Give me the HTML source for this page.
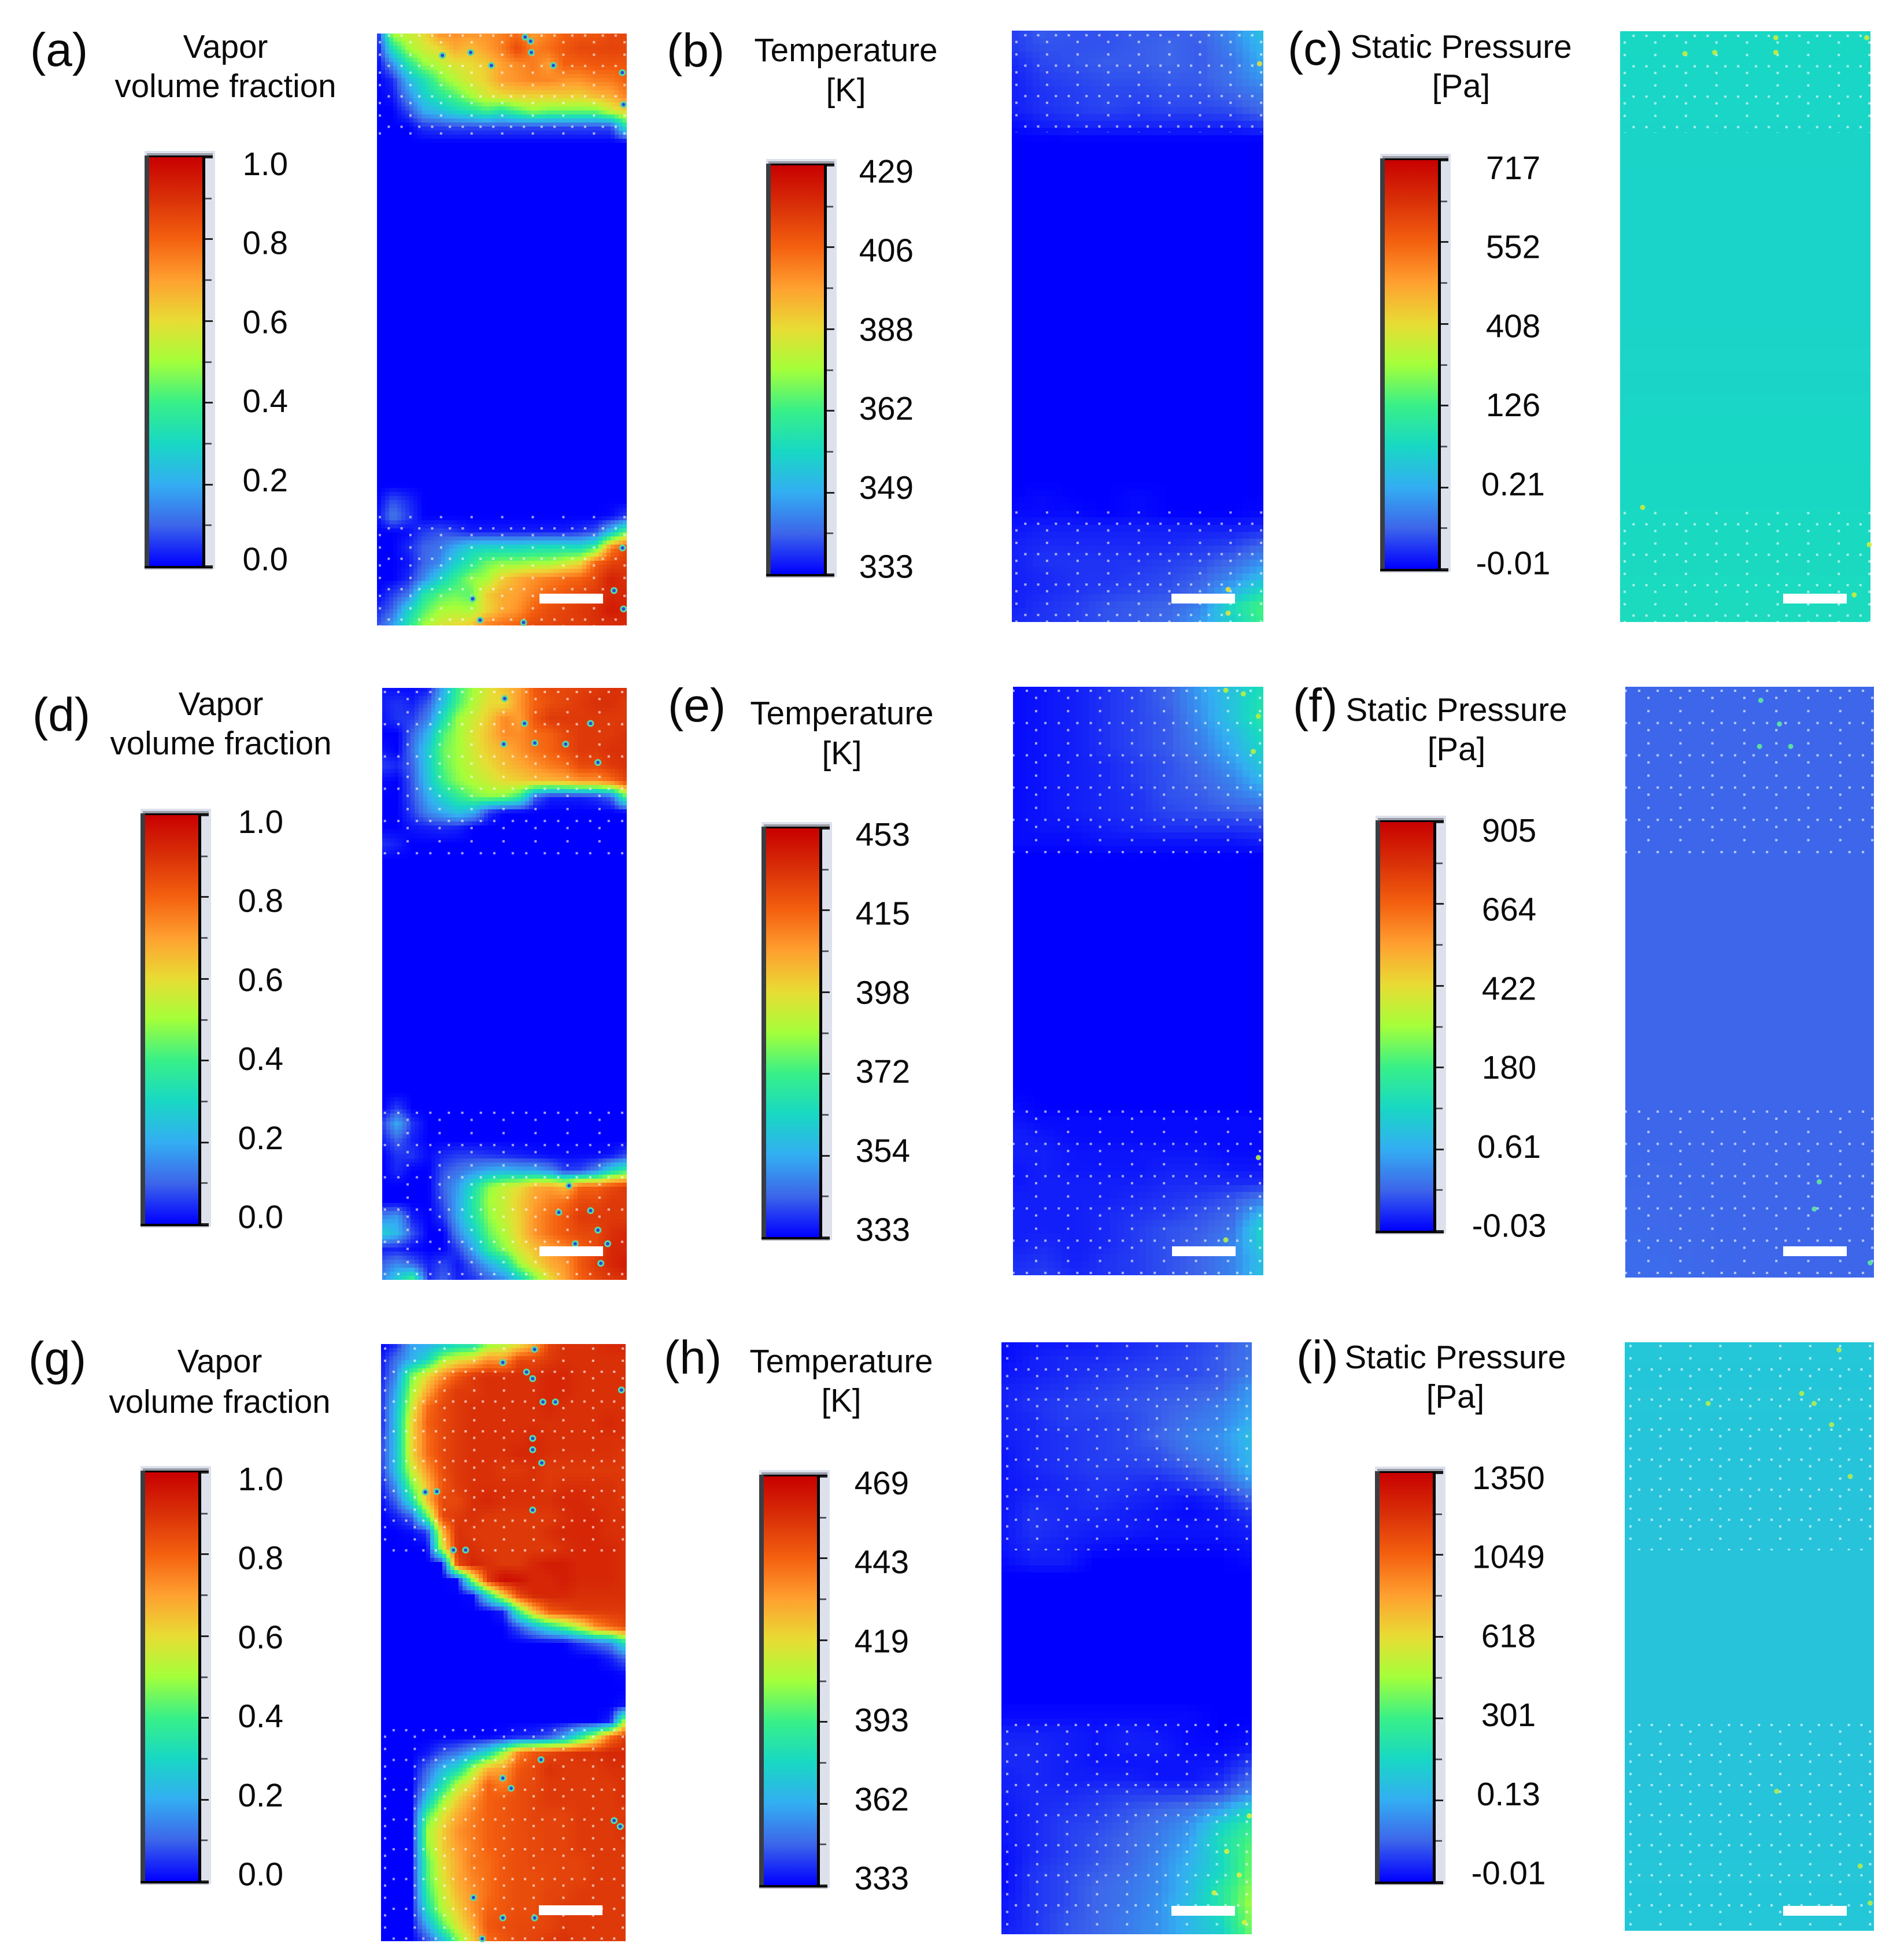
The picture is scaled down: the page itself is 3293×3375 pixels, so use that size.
<!DOCTYPE html>
<html lang="en">
<head>
<meta charset="utf-8">
<title>Vapor fraction, temperature and pressure fields</title>
<style>
html,body{margin:0;padding:0;background:#fff;}
svg{display:block;font-family:"Liberation Sans",Arial,sans-serif;}
</style>
</head>
<body>
<svg id="figure" xmlns="http://www.w3.org/2000/svg" width="3293" height="3375" viewBox="0 0 3293 3375"><defs id="defs"></defs></svg>
<script>
/* colour scale */
const scaleStops = [0, 0.1, 0.2, 0.3, 0.4, 0.5, 0.6, 0.7, 0.8, 0.9, 1];
const scaleColors = ['#0000ff','#3d66ea','#33aef2','#18d8c4','#38f088','#a4ff3a','#e8dc34','#ffa030','#f4600f','#d93008','#c80000'];

/* colour bar tick labels */
const vaporTicks = ['1.0','0.8','0.6','0.4','0.2','0.0'];
const tempTicksB = ['429','406','388','362','349','333'];
const tempTicksE = ['453','415','398','372','354','333'];
const tempTicksH = ['469','443','419','393','362','333'];
const pressTicksC = ['717','552','408','126','0.21','-0.01'];
const pressTicksF = ['905','664','422','180','0.61','-0.03'];
const pressTicksI = ['1350','1049','618','301','0.13','-0.01'];

const z17 = [0,0,0,0,0,0,0,0,0,0,0,0,0,0,0,0,0];
const z9 = [0,0,0,0,0,0,0,0,0];

/* vapor fraction fields, percent */
const vaporA = [
[0,52,55,60,72,73,72,72,75,78,70,75,80,82,82,85,85],
[0,33,50,56,60,68,65,70,75,85,75,78,82,85,85,86,85],
[0,15,35,48,53,58,60,63,70,73,76,70,80,80,82,82,82],
[0,4,22,33,45,52,58,62,70,72,74,74,72,72,75,76,80],
[0,2,15,28,36,42,50,57,60,62,62,62,63,62,66,68,75],
[0,0,7,20,24,30,34,40,35,42,48,45,45,45,45,55,62],
[0,0,0,5,6,7,7,7,7,7,7,7,7,7,7,7,35],
z17,
z17,z17,z17,z17,z17,z17,z17,z17,z17,z17,z17,z17,z17,z17,z17,z17,z17,z17,z17,z17,z17,z17,
[0,8,4,0,0,0,0,0,0,0,0,0,0,0,0,0,0],
[1,13,6,0,0,0,0,0,0,0,0,0,0,0,0,1,6],
[0,0,1,6,8,6,3,3,3,3,3,3,3,5,8,25,45],
[0,0,4,10,12,20,28,30,30,30,32,33,33,32,40,75,86],
[0,0,2,10,15,28,36,45,48,48,50,50,55,60,80,86,88],
[0,0,4,15,28,38,48,50,62,68,72,75,78,80,85,93,90],
[0,6,12,35,42,45,43,62,68,70,75,80,82,85,88,92,92],
[4,10,28,42,50,52,50,60,68,72,80,84,86,88,90,95,92],
[7,18,35,50,57,60,63,75,78,80,85,85,87,87,90,90,92]
];
const vaporD = [
[2,1,1,2,20,40,50,58,65,70,82,85,85,87,88,90,90],
[3,5,3,9,25,42,52,60,60,72,80,84,86,88,90,90,88],
[2,5,6,14,33,50,56,63,74,70,82,88,88,88,88,88,88],
[0,0,10,22,42,50,58,65,73,73,78,80,85,88,88,88,90],
[2,0,12,27,45,50,57,63,67,72,77,80,84,88,88,90,90],
[6,4,10,27,43,50,55,60,65,68,72,76,78,85,85,88,90],
[1,0,9,25,40,48,52,56,60,62,65,66,68,72,72,78,86],
[0,0,8,20,30,38,45,48,47,38,10,3,3,3,5,10,45],
[0,0,6,15,20,25,20,5,0,0,0,0,0,0,0,0,0],
[0,0,2,3,4,3,0,0,0,0,0,0,0,0,0,0,0],
[5,3,0,0,0,0,0,0,0,0,0,0,0,0,0,0,0],
z17,z17,z17,z17,z17,z17,z17,z17,z17,z17,z17,z17,z17,z17,z17,z17,
[0,6,0,0,0,0,0,0,0,0,0,0,0,0,0,0,0],
[6,20,5,0,0,0,0,0,0,0,0,0,0,0,0,0,0],
[3,10,3,0,0,0,0,0,0,0,0,0,0,0,0,0,0],
[0,5,5,1,4,6,6,5,4,3,2,1,1,1,1,2,7],
[0,4,0,0,8,12,16,20,22,20,20,15,6,7,15,30,40],
[0,0,0,0,10,18,33,48,55,60,68,70,65,80,80,85,88],
[0,0,0,0,8,20,36,50,55,63,70,75,78,85,85,88,88],
[15,18,3,0,5,20,34,48,55,62,72,78,82,88,88,88,88],
[28,22,8,0,0,15,28,44,52,62,72,78,82,85,85,90,92],
[3,3,1,0,0,7,20,38,48,58,65,70,75,80,85,92,92],
[10,15,10,3,7,2,10,20,30,50,60,68,72,82,88,92,95],
[15,28,42,4,10,3,5,10,15,28,45,60,70,80,85,88,90]
];
const vaporG = [
[0,4,18,20,25,30,32,47,52,58,68,86,90,90,90,92,92],
[2,12,20,30,50,58,62,72,70,85,85,88,90,90,90,90,90],
[3,15,45,60,72,82,88,90,90,90,90,92,92,90,90,90,90],
[4,20,50,68,82,88,88,90,90,90,90,92,92,90,90,90,90],
[4,24,55,78,85,88,90,90,90,90,90,92,90,90,90,90,90],
[3,25,60,80,85,88,90,90,90,90,90,90,90,90,90,92,90],
[5,25,60,78,85,88,90,90,90,90,92,90,90,90,90,90,90],
[6,25,60,78,85,88,90,90,90,92,92,90,90,90,90,90,88],
[5,25,55,72,84,88,90,90,88,88,90,88,88,88,88,88,88],
[3,17,45,65,82,88,90,90,90,90,90,88,90,90,90,90,88],
[1,10,32,65,85,85,90,92,90,90,90,90,92,92,90,90,88],
[0,3,9,42,85,88,90,88,88,88,88,88,90,92,92,90,90],
[0,0,1,5,65,90,88,88,88,88,88,90,92,92,92,90,90],
[0,0,0,0,55,90,90,88,88,88,88,88,90,92,92,92,90],
[0,0,0,0,0,85,92,90,88,88,92,94,94,92,92,92,90],
[0,0,0,0,0,1,50,88,98,96,92,92,94,92,92,92,90],
[0,0,0,0,0,0,1,30,62,85,92,92,92,90,90,90,90],
[0,0,0,0,0,0,0,0,3,40,65,82,85,88,88,88,88],
[0,0,0,0,0,0,0,0,0,8,20,32,42,55,72,80,85],
[0,0,0,0,0,0,0,0,0,0,0,0,0,5,10,15,35],
[0,0,0,0,0,0,0,0,0,0,0,0,0,0,0,3,10],
[0,0,0,0,0,0,0,0,0,0,0,0,0,0,0,0,1],
z17,
[0,0,0,0,0,0,0,0,0,0,0,0,0,0,0,0,2],
[0,0,0,0,0,0,0,0,0,0,0,0,0,0,0,3,55],
[0,0,0,0,0,0,0,0,1,3,4,8,18,35,55,78,88],
[0,0,0,2,8,12,20,30,50,75,82,85,88,90,90,92,92],
[0,0,0,10,22,30,50,66,70,82,85,90,88,88,88,90,90],
[0,0,0,15,32,52,62,80,75,84,85,88,88,88,88,88,90],
[0,0,0,25,48,62,72,80,82,84,86,88,88,88,88,88,90],
[0,0,0,42,58,68,75,80,82,84,86,86,86,88,88,88,88],
[0,0,0,50,62,72,76,80,82,84,85,86,86,88,88,88,90],
[0,0,0,48,62,70,75,80,82,84,85,86,86,88,88,88,88],
[0,0,0,42,60,68,76,78,82,84,85,85,86,86,88,88,88],
[0,0,0,42,58,68,74,78,82,84,84,85,86,86,88,88,88],
[0,0,0,38,55,66,72,78,82,84,84,86,86,88,88,88,88],
[0,0,0,32,52,62,72,80,82,84,84,86,88,88,88,88,88],
[0,0,0,20,42,58,68,82,84,85,85,86,88,88,88,88,88],
[0,0,0,7,22,45,62,78,82,85,86,88,90,88,88,88,88]
];

/* temperature fields, percent of colour range */
const tempB = [
[6,9,8,8,9,9,10,15,25],
[6,8,8,8,9,10,9,14,22],
[4,7,8,9,9,10,9,12,20],
[3,6,7,8,8,9,9,12,17],
[3,5,6,7,7,8,8,10,13],
[3,5,6,7,6,7,7,8,11],
[1,3,4,4,4,4,4,4,6],
z9,z9,z9,z9,z9,z9,z9,z9,z9,z9,z9,z9,z9,z9,z9,z9,z9,z9,z9,z9,z9,z9,z9,
[0,1,0,0,1,0,0,0,0],
[1,1,1,0,1,0,0,0,1],
[2,3,3,3,3,3,3,3,4],
[3,4,4,4,4,4,5,6,10],
[3,5,5,5,5,6,7,10,15],
[3,4,5,5,6,7,9,14,22],
[3,4,5,6,7,8,11,20,32],
[3,5,6,8,9,10,14,32,42],
[4,5,6,8,9,11,17,28,40]
];
const tempE = [
[1,2,3,5,7,10,18,25,32],
[1,2,3,5,7,10,17,25,34],
[1,2,3,5,7,9,16,25,35],
[1,2,3,5,7,9,14,22,32],
[1,2,3,5,7,9,13,20,30],
[1,2,3,4,6,8,11,17,26],
[1,2,3,4,6,8,10,14,22],
[1,2,3,4,5,8,9,12,16],
[1,2,3,4,5,7,8,9,10],
[1,2,2,3,4,5,5,5,6],
[1,1,1,2,2,2,2,2,3],
z9,z9,z9,z9,z9,z9,z9,z9,z9,z9,z9,z9,z9,z9,z9,z9,
[1,0,0,0,0,0,0,0,0],
[2,1,1,1,1,1,1,1,1],
[3,2,1,1,1,1,1,1,1],
[3,3,2,2,2,2,2,1,1],
[2,3,2,2,2,3,3,2,2],
[2,3,3,3,3,4,4,4,4],
[3,3,3,3,4,5,6,8,12],
[3,3,3,4,5,6,8,10,22],
[3,3,3,4,6,8,9,12,30],
[3,4,3,4,6,8,10,14,28],
[4,5,3,5,6,8,10,14,24],
[5,6,4,5,6,8,10,14,25]
];
const tempH = [
[1,2,2,3,4,5,6,8,12],
[1,3,4,4,5,6,7,9,12],
[2,3,4,5,6,7,7,9,13],
[3,4,5,6,7,8,9,10,17],
[3,5,6,7,8,9,10,13,18],
[3,4,6,6,7,9,12,14,20],
[3,4,5,6,7,10,13,16,24],
[2,4,5,6,7,8,12,15,22],
[2,4,5,6,6,7,9,13,22],
[2,3,4,5,5,4,6,9,17],
[2,4,4,5,4,3,2,4,10],
[2,5,4,4,3,2,1,2,5],
[2,5,4,3,3,2,2,2,3],
[2,4,3,2,1,1,1,1,2],
[1,3,3,0,0,0,0,0,1],
z9,z9,z9,z9,z9,z9,z9,z9,z9,
[1,1,1,1,1,1,1,0,0],
[3,3,3,2,3,2,1,0,1],
[4,4,3,2,3,3,1,1,2],
[4,4,3,2,2,2,2,2,6],
[3,4,3,3,3,2,2,4,10],
[3,4,4,5,6,6,6,8,15],
[2,4,5,6,8,10,12,18,30],
[2,4,6,7,9,12,16,28,38],
[2,4,6,8,10,13,18,32,42],
[1,4,6,8,10,14,20,30,45],
[1,5,7,9,11,15,22,30,45],
[1,5,7,10,12,15,22,35,48],
[2,5,7,10,12,16,24,35,50],
[2,5,8,10,13,16,22,30,48],
[3,5,8,10,13,16,22,28,45]
];

/* static pressure fields, percent of colour range */
const pressC = [[30,30,30],[29,29,29],[29,29,29],[30,30,30],[31,31,31]];
const pressF = [[10,10,10],[10,10,10],[10,10,10],[10,10,10],[11,10,10]];
const pressI = [[26,26,26],[25,25,25],[25,25,25],[25,25,25],[26,26,26]];

/* nucleation and hot spots: x share, y share */
const sitesA = [[.262,.037],[.375,.032],[.458,.054],[.593,.006],[.615,.013],[.618,.032],[.706,.054],[.982,.066],[.987,.120],[.383,.955],[.413,.991],[.587,.995],[.983,.869],[.949,.941],[.987,.972]];
const sitesD = [[.501,.018],[.582,.060],[.852,.060],[.497,.095],[.624,.093],[.750,.095],[.882,.126],[.764,.841],[.722,.886],[.852,.883],[.882,.916],[.789,.939],[.922,.939],[.894,.972]];
const sitesG = [[.628,.009],[.498,.031],[.595,.047],[.620,.058],[.983,.077],[.662,.097],[.713,.097],[.620,.158],[.620,.177],[.657,.199],[.181,.248],[.228,.247],[.620,.278],[.346,.345],[.296,.345],[.498,.727],[.532,.744],[.654,.696],[.953,.798],[.978,.808],[.378,.927],[.498,.961],[.628,.961],[.414,.996]];
const spotsB = [[.86,.945],[.86,.985],[.985,.056]];
const spotsE = [[.85,.006],[.92,.012],[.98,.05],[.96,.11],[.98,.80],[.85,.94]];
const spotsH = [[.90,.86],[.95,.90],[.85,.93],[.92,.96],[.97,.98],[.99,.80]];
const spotsC = [[.259,.038],[.378,.036],[.622,.011],[.622,.036],[.985,.011],[.090,.806],[.995,.869],[.935,.954],[.687,.958]];
const spotsF = [[.545,.023],[.62,.063],[.54,.101],[.665,.101],[.76,.884],[.78,.838],[.985,.975]];
const spotsI = [[.86,.013],[.335,.104],[.71,.087],[.76,.104],[.83,.14],[.905,.228],[.61,.763],[.945,.89],[.985,.953]];

const NS = 'http://www.w3.org/2000/svg';
const fig = document.getElementById('figure');
const defs = document.getElementById('defs');

function hexToRgb(h){return [parseInt(h.slice(1,3),16),parseInt(h.slice(3,5),16),parseInt(h.slice(5,7),16)];}
const scaleRgb = scaleColors.map(hexToRgb);
function colorOf(v){
  const t = Math.max(0, Math.min(1, v));
  let i = 0;
  while(i < scaleStops.length-2 && t > scaleStops[i+1]) i++;
  const f = (t-scaleStops[i])/(scaleStops[i+1]-scaleStops[i]);
  const a = scaleRgb[i], b = scaleRgb[i+1];
  return 'rgb('+Math.round(a[0]+(b[0]-a[0])*f)+','+Math.round(a[1]+(b[1]-a[1])*f)+','+Math.round(a[2]+(b[2]-a[2])*f)+')';
}
function addRect(parent,x,y,w,h,fill){
  const r = document.createElementNS(NS,'rect');
  r.setAttribute('x',x);
  r.setAttribute('y',y);
  r.setAttribute('width',w);
  r.setAttribute('height',h);
  r.setAttribute('fill',fill);
  parent.appendChild(r);
  return r;
}
function addText(parent,x,y,str,size,anchor){
  const t = document.createElementNS(NS,'text');
  t.setAttribute('x',x);
  t.setAttribute('y',y);
  t.setAttribute('font-size',size);
  t.setAttribute('text-anchor',anchor);
  t.setAttribute('fill','#0a0a0a');
  t.textContent = str;
  parent.appendChild(t);
  return t;
}
function addGroup(name){
  const g = document.createElementNS(NS,'g');
  
  
  fig.appendChild(g);
  return g;
}

function drawLabels(letter,lx,ly,t1,t2,cx,b1,b2){
  const g = addGroup('panel-'+letter+'-labels');
  const a = addText(g,lx,ly,'('+letter+')',82,'start');
  
  
  const b = addText(g,cx,b1,t1,56.5,'middle');
  
  
  const c = addText(g,cx,b2,t2,56.5,'middle');
  
  
}

function drawColorbar(letter,ox,oy,ticks,labelX,labelTop,anchor){
  const g = addGroup('colorbar-'+letter);
  const gid = 'grad-'+letter;
  const lg = document.createElementNS(NS,'linearGradient');
  lg.setAttribute('id',gid);
  lg.setAttribute('x1','0');lg.setAttribute('y1','1');lg.setAttribute('x2','0');lg.setAttribute('y2','0');
  scaleStops.forEach(function(s,i){
    const st = document.createElementNS(NS,'stop');
    st.setAttribute('offset',s);
    st.setAttribute('stop-color',scaleColors[i]);
    lg.appendChild(st);
  });
  defs.appendChild(lg);
  addRect(g,ox,oy,122,723,'#dde1ec');
  addRect(g,ox+4,oy+4,114,4,'#9a9ca8');
  addRect(g,ox+4,oy+8,114,3,'#000');
  addRect(g,ox,oy+8,8,715,'#3a3e42');
  const bar = addRect(g,ox+8,oy+11,92,707,'url(#'+gid+')');
  
  
  addRect(g,ox+100,oy+8,5,712,'#000');
  addRect(g,ox,oy+718,118,4,'#000');
  addRect(g,ox,oy+722,118,2,'#a8aab4');
  for(let i=0;i<=10;i++){
    const tk = addRect(g,ox+105,Math.round(oy+10+i*70.7),i%2?11:13,3,i%2?'#55585f':'#222');
    
    
  }
  ticks.forEach(function(s,i){
    const t = addText(g,labelX,labelTop+i*136.7,s,56.5,anchor);
    
    
  });
}

function drawField(name,grid,x0,x1,y0,y1,cell,bands,sites,siteStyle){
  const g = addGroup(name);
  const cols = grid[0].length, rows = grid.length;
  const W = x1-x0, H = y1-y0;
  const xScale = function(u){return x0+u*W;};
  const yScale = function(v){return y0+v*H;};
  const nx = Math.max(1,Math.round(W/cell)), ny = Math.max(1,Math.round(H/cell));
  for(let j=0;j<ny;j++){
    const py0 = Math.round(yScale(j/ny)), py1 = Math.round(yScale((j+1)/ny));
    const rf = (j+0.5)/ny*(rows-1), r0 = Math.min(rows-2,Math.floor(rf)), tr = rf-r0;
    for(let i=0;i<nx;i++){
      const px0 = Math.round(xScale(i/nx)), px1 = Math.round(xScale((i+1)/nx));
      const cf = (i+0.5)/nx*(cols-1), c0 = Math.min(cols-2,Math.floor(cf)), tc = cf-c0;
      const val = (grid[r0][c0]*(1-tc)+grid[r0][c0+1]*tc)*(1-tr)+(grid[r0+1][c0]*(1-tc)+grid[r0+1][c0+1]*tc)*tr;
      const el = addRect(g,px0,py0,px1-px0,py1-py0,colorOf(val/100));
      el.setAttribute('shape-rendering','crispEdges');
      
      
    }
  }
  bands.forEach(function(b,k){
    const pid = name+'-dots-'+k;
    const p = document.createElementNS(NS,'pattern');
    p.setAttribute('id',pid);
    p.setAttribute('patternUnits','userSpaceOnUse');
    p.setAttribute('width',b.tw);
    p.setAttribute('height',b.th);
    p.setAttribute('x',x0+b.ax-5);
    p.setAttribute('y',y0+b.by-5);
    [[0,.22],[0,.63],[.29,0],[.71,0]].forEach(function(d){
      const o = addRect(p,5+d[0]*b.tw-2,5+d[1]*b.th-2,4,4,'#fff');
      o.setAttribute('opacity','0.62');
    });
    defs.appendChild(p);
    const band = addRect(g,x0,y0+b.from,W,Math.min(H,b.to)-b.from,'url(#'+pid+')');
    
    
  });
  sites.forEach(function(s){
    if(siteStyle==='ring'){
      const c = document.createElementNS(NS,'circle');
      c.setAttribute('cx',xScale(s[0]));
      c.setAttribute('cy',yScale(s[1]));
      c.setAttribute('r',4.5);
      c.setAttribute('fill','#2a48d8');
      c.setAttribute('stroke','#58d8a8');
      c.setAttribute('stroke-width',3);
      
      
      g.appendChild(c);
    } else {
      const c = document.createElementNS(NS,'circle');
      c.setAttribute('cx',xScale(s[0]));
      c.setAttribute('cy',yScale(s[1]));
      c.setAttribute('r',4.5);
      c.setAttribute('fill',siteStyle);
      c.setAttribute('opacity','0.9');
      
      
      g.appendChild(c);
    }
  });
}

function drawScaleBar(x,y){
  const r = addRect(fig,x,y,110,17,'#fff');
  
  
}

const bandsA = [{from:0,to:176,ax:5,by:3.5,tw:52.9,th:52.6},{from:826,to:2000,ax:5,by:856,tw:52.9,th:52.6}];
const bandsB = [{from:0,to:176,ax:8,by:8,tw:52.9,th:52.6},{from:822,to:2000,ax:8,by:853,tw:52.9,th:52.6}];
const bandsD = [{from:0,to:296,ax:44,by:7,tw:55.3,th:55.8},{from:725,to:2000,ax:44,by:735,tw:55.3,th:55.8}];
const bandsE = [{from:0,to:296,ax:40,by:7,tw:55.3,th:55.8},{from:725,to:2000,ax:40,by:735,tw:55.3,th:55.8}];
const bandsG = [{from:0,to:365,ax:7,by:48,tw:51.4,th:51.5},{from:655,to:2000,ax:7,by:668,tw:51.4,th:51.5}];
const bandsH = [{from:0,to:360,ax:10,by:47,tw:51.8,th:52},{from:650,to:2000,ax:10,by:662,tw:51.8,th:52}];

/* row one */
drawLabels('a',52,114,'Vapor','volume fraction',390,100,168);
drawColorbar('a',250,261,vaporTicks,498,303,'end');
drawField('vapor-field-a',vaporA,652,1084,58,1082,7,bandsA,sitesA,'ring');
drawScaleBar(933,1027);

drawLabels('b',1153,115,'Temperature','[K]',1463,106,175);
drawColorbar('b',1325,275,tempTicksB,1580,316,'end');
drawField('temperature-field-b',tempB,1750,2185,53,1076,12,bandsB,spotsB,'#e8e040');
drawScaleBar(2026,1027);

drawLabels('c',2227,112,'Static Pressure','[Pa]',2527,100,168);
drawColorbar('c',2387,266,pressTicksC,2617,310,'middle');
drawField('pressure-field-c',pressC,2802,3235,54,1076,40,bandsB,spotsC,'#c8ec40');
drawScaleBar(3084,1027);

/* row two */
drawLabels('d',56,1264,'Vapor','volume fraction',382,1237,1305);
drawColorbar('d',243,1399,vaporTicks,490,1441,'end');
drawField('vapor-field-d',vaporD,661,1084,1190,2214,7,bandsD,sitesD,'ring');
drawScaleBar(933,2156);

drawLabels('e',1155,1248,'Temperature','[K]',1456,1253,1322);
drawColorbar('e',1317,1422,tempTicksE,1574,1463,'end');
drawField('temperature-field-e',tempE,1752,2185,1188,2206,12,bandsE,spotsE,'#b8f040');
drawScaleBar(2027,2156);

drawLabels('f',2236,1248,'Static Pressure','[Pa]',2519,1247,1315);
drawColorbar('f',2379,1411,pressTicksF,2610,1456,'middle');
drawField('pressure-field-f',pressF,2811,3241,1188,2210,40,bandsE,spotsF,'#60e8a0');
drawScaleBar(3084,2156);

/* row three */
drawLabels('g',49,2378,'Vapor','volume fraction',380,2374,2444);
drawColorbar('g',243,2536,vaporTicks,490,2578,'end');
drawField('vapor-field-g',vaporG,659,1082,2325,3358,7,bandsG,sitesG,'ring');
drawScaleBar(932,3296);

drawLabels('h',1148,2376,'Temperature','[K]',1455,2374,2442);
drawColorbar('h',1313,2543,tempTicksH,1572,2585,'end');
drawField('temperature-field-h',tempH,1732,2165,2322,3346,12,bandsH,spotsH,'#d8f040');
drawScaleBar(2026,3297);

drawLabels('i',2242,2376,'Static Pressure','[Pa]',2517,2367,2435);
drawColorbar('i',2378,2537,pressTicksI,2609,2576,'middle');
drawField('pressure-field-i',pressI,2810,3241,2322,3340,40,bandsH,spotsI,'#b4ec50');
drawScaleBar(3084,3297);
</script>
</body>
</html>
